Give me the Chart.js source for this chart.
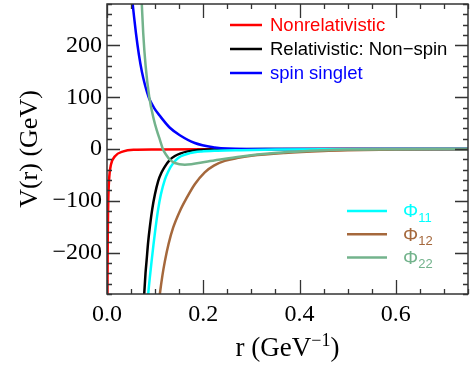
<!DOCTYPE html>
<html>
<head>
<meta charset="utf-8">
<script src="https://cdn.jsdelivr.net/npm/chart.js@4.4.1/dist/chart.umd.min.js"></script>
<style>
  body { margin: 0; background: #fff; }
  #wrap { width: 471px; height: 369px; position: relative; }
</style>
</head>
<body>
<div id="wrap"><canvas id="chart"></canvas></div>
<script>
// r in GeV^-1, V(r) in GeV
const nonrelR = [0.0005, 0.001, 0.0018, 0.0027, 0.0048, 0.0083, 0.0166, 0.034, 0.055, 0.1, 0.2, 0.35, 0.5, 0.75];
const nonrelV = [-500, -260, -150, -98, -53, -30, -14, -4.6, -1.6, -1.0, -0.6, -0.3, -0.2, -0.1];

const nonspinR = [0.075, 0.0773, 0.080, 0.0823, 0.0855, 0.0891, 0.094, 0.0995, 0.1063, 0.113, 0.1202, 0.1306, 0.141, 0.153, 0.168, 0.19, 0.22, 0.27, 0.35, 0.75];
const nonspinV = [-320, -280, -240, -215, -180, -150, -116, -88, -62, -46, -34, -21, -13.5, -8.5, -4.6, -2, -0.8, -0.3, -0.1, 0];

const singletR = [0.048, 0.0524, 0.056, 0.0601, 0.0663, 0.0725, 0.0788, 0.087, 0.0974, 0.1098, 0.1306, 0.1513, 0.1824, 0.2238, 0.2508, 0.3, 0.4, 0.55, 0.75];
const singletV = [330, 288, 257, 224, 182, 149, 124, 99, 80, 64, 41, 26.6, 11.6, 3.1, 0.8, 0.2, 0, 0, 0];

const phi11R = [0.083, 0.0856, 0.089, 0.0926, 0.0965, 0.1009, 0.106, 0.1119, 0.1202, 0.127, 0.1326, 0.143, 0.1534, 0.172, 0.1963, 0.23, 0.279, 0.35, 0.45, 0.6, 0.75];
const phi11V = [-310, -280, -248, -217, -185, -152, -118, -88, -59, -44, -34, -21.5, -14, -8, -4.8, -3.3, -2.3, -1.2, -0.5, -0.2, -0.05];

const phi12R = [0.106, 0.1098, 0.115, 0.1202, 0.128, 0.1374, 0.1513, 0.1652, 0.1824, 0.2031, 0.222, 0.2446, 0.27, 0.2999, 0.3689, 0.45, 0.5, 0.6, 0.75];
const phi12V = [-310, -280, -245, -217, -183, -152, -120, -95, -68, -45, -32, -23, -17.5, -13, -7.5, -3.8, -2.5, -1.1, -0.3];

const phi22R = [0.070, 0.0719, 0.0752, 0.0802, 0.0877, 0.0974, 0.1035, 0.1098, 0.1167, 0.1235, 0.1306, 0.141, 0.1617, 0.2093, 0.279, 0.348, 0.39, 0.45, 0.5, 0.6, 0.75];
const phi22V = [325, 288, 224.5, 161, 101, 56.6, 36, 18, -1.4, -12, -20.7, -27, -30.3, -24, -14.3, -7.7, -5.2, -2.5, -1.2, -0.4, -0.1];

const seriesNames = ['Nonrelativistic', 'Relativistic: Non\u2212spin', 'spin singlet', '\u03A611', '\u03A612', '\u03A622'];
const seriesColors = ['#ff0000', '#000000', '#0000ff', '#00ffff', '#a5683c', '#73b38c'];
const seriesR = [nonrelR, nonspinR, singletR, phi11R, phi12R, phi22R];
const seriesV = [nonrelV, nonspinV, singletV, phi11V, phi12V, phi22V];

const xTicks = [0, 0.2, 0.4, 0.6];
const yTicks = [-200, -100, 0, 100, 200];

const datasets = seriesNames.map((name, i) => ({
  label: name,
  data: seriesR[i].map((r, k) => ({ x: r, y: seriesV[i][k] })),
  borderColor: seriesColors[i],
  borderWidth: 2.5,
  pointRadius: 0,
  fill: false,
  cubicInterpolationMode: 'monotone',
  order: seriesNames.length - i
}));

const frameColor = '#333';

const framePlugin = {
  id: 'frame',
  afterDatasetsDraw(chart) {
    const { ctx, chartArea: a, scales: { x, y } } = chart;
    ctx.save();
    ctx.strokeStyle = frameColor;
    ctx.lineWidth = 1.5;
    ctx.strokeRect(a.left, a.top, a.right - a.left, a.bottom - a.top);
    ctx.lineWidth = 1.3;
    ctx.beginPath();
    for (let i = 0; i * 0.05 <= x.max + 1e-9; i++) {
      const px = Math.round(x.getPixelForValue(i * 0.05)) + 0.5;
      const len = i % 4 === 0 ? 14 : 5;
      ctx.moveTo(px, a.bottom); ctx.lineTo(px, a.bottom - len);
      ctx.moveTo(px, a.top); ctx.lineTo(px, a.top + len);
    }
    for (let v = -280; v <= 280; v += 20) {
      const py = Math.round(y.getPixelForValue(v)) + 0.5;
      const len = v % 100 === 0 ? 13 : 5;
      ctx.moveTo(a.left, py); ctx.lineTo(a.left + len, py);
      ctx.moveTo(a.right, py); ctx.lineTo(a.right - len, py);
    }
    ctx.stroke();
    ctx.restore();
  },
  afterDraw(chart) {
    const { ctx, chartArea: a } = chart;
    ctx.save();
    // legend: top group
    ctx.font = '18.5px "Liberation Sans", Arial, sans-serif';
    ctx.textBaseline = 'middle';
    for (let i = 0; i < 3; i++) {
      const ly = a.top + 21 + i * 24;
      ctx.strokeStyle = seriesColors[i];
      ctx.lineWidth = 2.5;
      ctx.beginPath();
      ctx.moveTo(a.left + 123, ly); ctx.lineTo(a.left + 155, ly);
      ctx.stroke();
      ctx.fillStyle = seriesColors[i];
      ctx.fillText(seriesNames[i], a.left + 163, ly + 1);
    }
    // legend: Phi group
    for (let i = 3; i < 6; i++) {
      const ly = a.top + 207 + (i - 3) * 23.3;
      ctx.strokeStyle = seriesColors[i];
      ctx.lineWidth = 2.5;
      ctx.beginPath();
      ctx.moveTo(a.left + 240, ly); ctx.lineTo(a.left + 280, ly);
      ctx.stroke();
      ctx.fillStyle = seriesColors[i];
      ctx.font = '19px "Liberation Sans", Arial, sans-serif';
      const sym = seriesNames[i].charAt(0);
      ctx.fillText(sym, a.left + 296, ly + 1);
      const w = ctx.measureText(sym).width;
      ctx.font = '13px "Liberation Sans", Arial, sans-serif';
      ctx.fillText(seriesNames[i].slice(1), a.left + 296 + w, ly + 7);
    }
    // x axis title with superscript
    ctx.fillStyle = '#000';
    ctx.textBaseline = 'alphabetic';
    const big = '27px "Liberation Serif", "Times New Roman", serif';
    const small = '18px "Liberation Serif", "Times New Roman", serif';
    const p1 = 'r (GeV', p2 = '\u22121', p3 = ')';
    ctx.font = big; const w1 = ctx.measureText(p1).width, w3 = ctx.measureText(p3).width;
    ctx.font = small; const w2 = ctx.measureText(p2).width;
    let tx = (a.left + a.right) / 2 - (w1 + w2 + w3) / 2;
    const base = 356;
    ctx.font = big; ctx.fillText(p1, tx, base); tx += w1;
    ctx.font = small; ctx.fillText(p2, tx, base - 10); tx += w2;
    ctx.font = big; ctx.fillText(p3, tx, base);
    ctx.restore();
  }
};

new Chart(document.getElementById('chart'), {
  type: 'line',
  data: { datasets },
  options: {
    responsive: true,
    maintainAspectRatio: false,
    animation: false,
    layout: { padding: { top: 4, right: 3, left: 0, bottom: 0 } },
    plugins: { legend: { display: false }, tooltip: { enabled: false } },
    scales: {
      x: {
        type: 'linear', min: 0, max: 0.75,
        afterFit: (s) => { s.height = 75; s.paddingLeft = 0; s.paddingRight = 0; },
        afterBuildTicks: (s) => { s.ticks = xTicks.map(v => ({ value: v })); },
        grid: { drawOnChartArea: false, drawTicks: false },
        border: { display: false },
        ticks: {
          padding: 6, color: '#000',
          font: { family: '"Liberation Serif", "Times New Roman", serif', size: 24 },
          callback: (v) => v.toFixed(1)
        }
      },
      y: {
        type: 'linear', min: -280, max: 280,
        afterFit: (s) => { s.width = 107; s.paddingTop = 0; s.paddingBottom = 0; },
        afterBuildTicks: (s) => { s.ticks = yTicks.map(v => ({ value: v })); },
        grid: { drawOnChartArea: false, drawTicks: false },
        border: { display: false },
        ticks: {
          padding: 5, color: '#000',
          font: { family: '"Liberation Serif", "Times New Roman", serif', size: 24 },
          callback: (v) => v < 0 ? '\u2212' + Math.abs(v) : String(v)
        },
        title: {
          display: true, text: 'V(r) (GeV)', color: '#000',
          font: { family: '"Liberation Serif", "Times New Roman", serif', size: 26, lineHeight: 1 },
          padding: { top: 17, bottom: 0 }
        }
      }
    }
  },
  plugins: [framePlugin]
});
</script>
</body>
</html>
